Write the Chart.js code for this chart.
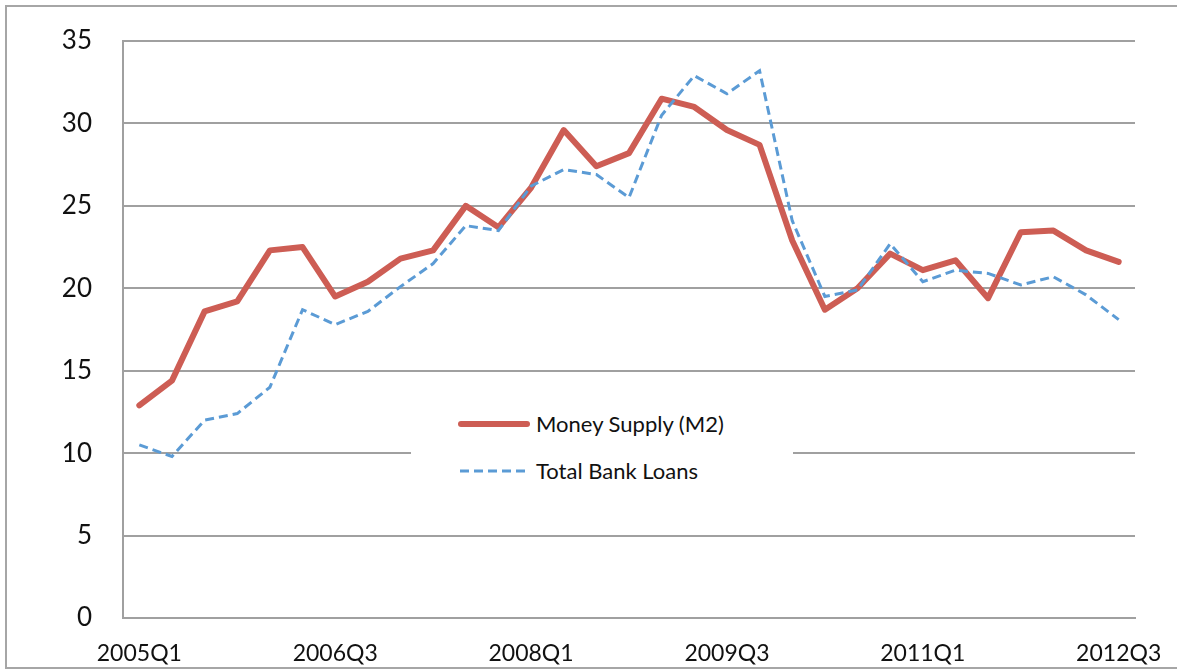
<!DOCTYPE html>
<html>
<head>
<meta charset="utf-8">
<script src="https://cdn.jsdelivr.net/npm/chart.js@4"></script>
<style>
  html, body { margin: 0; padding: 0; background: #fff; overflow: hidden; }
  #wrap { position: relative; width: 1177px; height: 672px; overflow: hidden; }
  #frame { position: absolute; left: 5px; top: 5px; width: 1172px; height: 664px;
           border: 2px solid #a6a6a6; border-right: none; box-sizing: border-box; }
  #chart { position: absolute; left: 0; top: 0; }
  #legend { position: absolute; left: 411px; top: 402px; width: 382px; height: 92px; background: #fff;
            font-family: Lato, "Open Sans", sans-serif; font-size: 22px; color: #111; }
  .item { position: absolute; left: 46px; display: flex; align-items: center; }
  .item svg { margin-right: 5px; }
</style>
</head>
<body>
<div id="wrap">
  <div id="frame"></div>
  <canvas id="chart" width="1177" height="672"></canvas>
  <div id="legend">
    <div class="item" style="top: 8px;">
      <svg width="74" height="10"><line x1="4" y1="5" x2="70" y2="5" stroke="#CD5D54" stroke-width="6" stroke-linecap="round"/></svg>
      <span>Money Supply (M2)</span>
    </div>
    <div class="item" style="top: 55px;">
      <svg width="74" height="10"><line x1="3" y1="5" x2="71" y2="5" stroke="#5B9BD5" stroke-width="3" stroke-dasharray="9,5"/></svg>
      <span>Total Bank Loans</span>
    </div>
  </div>
</div>
<script>
const quarters = [
  '2005Q1', '2005Q2', '2005Q3', '2005Q4',
  '2006Q1', '2006Q2', '2006Q3', '2006Q4',
  '2007Q1', '2007Q2', '2007Q3', '2007Q4',
  '2008Q1', '2008Q2', '2008Q3', '2008Q4',
  '2009Q1', '2009Q2', '2009Q3', '2009Q4',
  '2010Q1', '2010Q2', '2010Q3', '2010Q4',
  '2011Q1', '2011Q2', '2011Q3', '2011Q4',
  '2012Q1', '2012Q2', '2012Q3'
];
const shownLabels = ['2005Q1', '2006Q3', '2008Q1', '2009Q3', '2011Q1', '2012Q3'];

const moneySupply = [12.9, 14.4, 18.6, 19.2, 22.3, 22.5, 19.5, 20.4, 21.8, 22.3,
                     25.0, 23.7, 26.1, 29.6, 27.4, 28.2, 31.5, 31.0, 29.6, 28.7,
                     22.9, 18.7, 20.0, 22.1, 21.1, 21.7, 19.4, 23.4, 23.5, 22.3, 21.6];
const bankLoans = [10.5, 9.8, 12.0, 12.4, 14.0, 18.7, 17.8, 18.6, 20.1, 21.5,
                   23.8, 23.5, 26.2, 27.2, 26.9, 25.5, 30.5, 32.9, 31.8, 33.2,
                   24.1, 19.5, 19.9, 22.7, 20.4, 21.1, 20.9, 20.2, 20.7, 19.6, 18.1];

const gridColor = '#a0a0a0';
const fontFamily = 'Lato, "Open Sans", sans-serif';

// drop the label overhang so the plot area sits exactly where the padding puts it
function noOverhang(scale) {
  scale.paddingLeft = 0;
  scale.paddingRight = 0;
  scale.paddingTop = 0;
  scale.paddingBottom = 0;
}

new Chart(document.getElementById('chart'), {
  type: 'line',
  data: {
    labels: quarters,
    datasets: [
      {
        label: 'Money Supply (M2)',
        data: moneySupply,
        borderColor: '#CD5D54',
        borderWidth: 6,
        borderJoinStyle: 'round',
        borderCapStyle: 'round',
        pointRadius: 0,
        tension: 0,
        order: 1
      },
      {
        label: 'Total Bank Loans',
        data: bankLoans,
        borderColor: '#5B9BD5',
        borderWidth: 3,
        borderDash: [9, 5],
        pointRadius: 0,
        tension: 0,
        order: 0
      }
    ]
  },
  options: {
    responsive: false,
    animation: false,
    devicePixelRatio: 1,
    layout: { padding: { left: 0, top: 41, right: 42, bottom: 0 } },
    plugins: { legend: { display: false }, tooltip: { enabled: false } },
    scales: {
      x: {
        offset: true,
        grid: { display: false, drawTicks: false },
        border: { color: gridColor, width: 2 },
        ticks: {
          autoSkip: false,
          maxRotation: 0,
          padding: 22,
          color: '#111',
          font: { family: fontFamily, size: 23 },
          callback: function (value) {
            const lbl = this.getLabelForValue(value);
            return shownLabels.includes(lbl) ? lbl : '';
          }
        },
        afterFit: scale => { scale.height = 54; noOverhang(scale); }
      },
      y: {
        min: 0,
        max: 35,
        grid: { color: gridColor, lineWidth: 2, drawTicks: false },
        border: { color: gridColor, width: 2 },
        ticks: {
          stepSize: 5,
          padding: 31,
          color: '#111',
          font: { family: fontFamily, size: 26 }
        },
        afterFit: scale => { scale.width = 123; noOverhang(scale); }
      }
    }
  }
});
</script>
</body>
</html>
